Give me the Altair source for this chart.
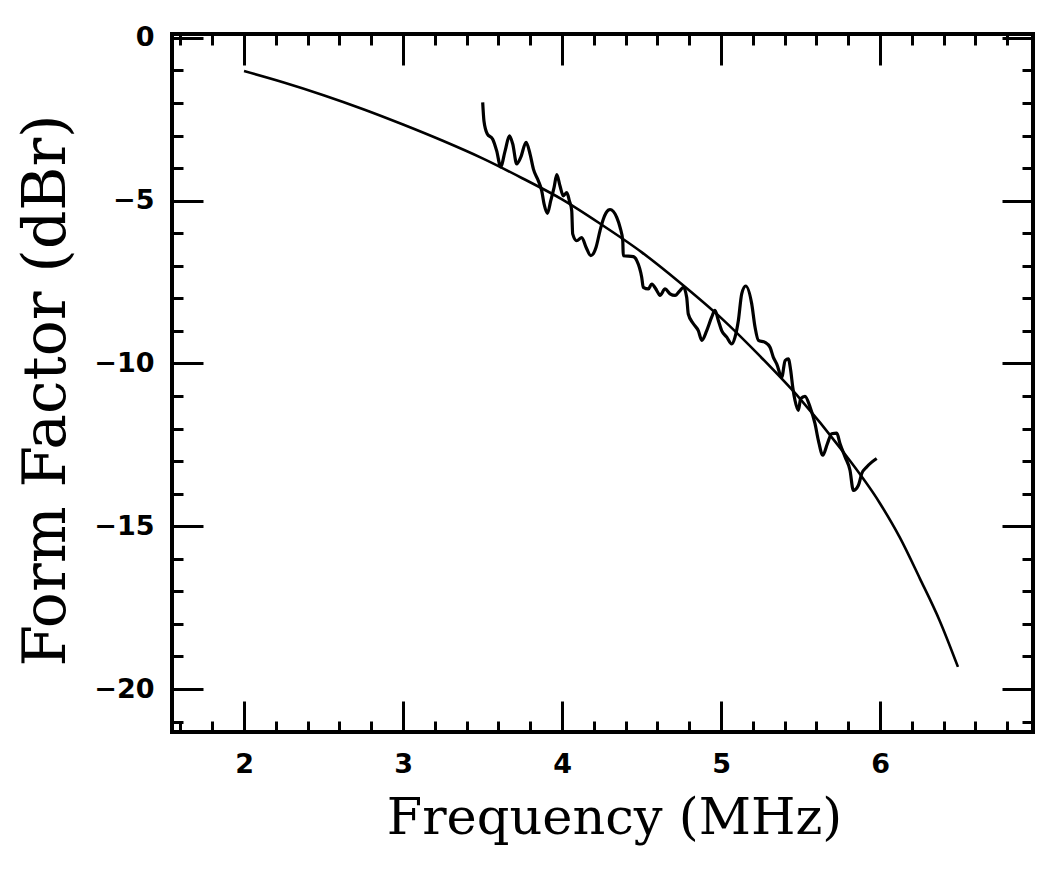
import altair as alt
import pandas as pd

# Smooth fitted curve (frequency in MHz, form factor in dBr)
fit_freq = [2.00, 2.25, 2.50, 2.75, 3.00, 3.25, 3.50, 3.75, 4.00, 4.25, 4.50, 4.75,
            5.00, 5.25, 5.50, 5.75, 6.00, 6.125, 6.25, 6.375, 6.49]
fit_db = [-1.02, -1.37, -1.76, -2.19, -2.66, -3.16, -3.70, -4.31, -4.96, -5.74, -6.58, -7.55,
          -8.60, -9.80, -11.10, -12.60, -14.30, -15.35, -16.60, -17.90, -19.32]

# Measured (noisy) curve
meas_freq = [3.501, 3.509, 3.530, 3.564, 3.589, 3.614, 3.642, 3.669, 3.690, 3.715, 3.740, 3.774,
             3.799, 3.820, 3.851, 3.872, 3.887, 3.908, 3.929, 3.950, 3.967, 3.987, 4.008, 4.030,
             4.046, 4.061, 4.067, 4.092, 4.124, 4.151, 4.181, 4.214, 4.239, 4.260, 4.291, 4.302,
             4.344, 4.365, 4.382, 4.385, 4.448, 4.470, 4.501, 4.511, 4.543, 4.564, 4.596, 4.616,
             4.648, 4.679, 4.711, 4.742, 4.763, 4.784, 4.794, 4.826, 4.857, 4.879, 4.910, 4.941,
             4.962, 4.983, 5.004, 5.036, 5.067, 5.088, 5.109, 5.130, 5.155, 5.193, 5.214, 5.235,
             5.277, 5.308, 5.329, 5.350, 5.382, 5.403, 5.423, 5.438, 5.451, 5.465, 5.486, 5.501,
             5.528, 5.560, 5.591, 5.612, 5.640, 5.669, 5.696, 5.728, 5.748, 5.780, 5.811, 5.832,
             5.864, 5.885, 5.916, 5.948, 5.979]
meas_db = [-1.98, -2.55, -2.95, -3.11, -3.47, -3.96, -3.47, -3.01, -3.26, -3.87, -3.67, -3.21,
           -3.57, -4.03, -4.39, -4.69, -5.10, -5.39, -5.00, -4.59, -4.20, -4.54, -4.85, -4.75,
           -5.00, -5.31, -6.02, -6.23, -6.13, -6.43, -6.69, -6.43, -5.92, -5.56, -5.29, -5.27,
           -5.51, -5.82, -6.23, -6.69, -6.72, -6.84, -7.35, -7.66, -7.71, -7.56, -7.76, -7.91,
           -7.71, -7.86, -7.91, -7.76, -7.66, -7.97, -8.48, -8.78, -8.99, -9.29, -8.99, -8.58,
           -8.37, -8.68, -8.99, -9.19, -9.40, -9.19, -8.68, -7.86, -7.62, -8.17, -8.89, -9.29,
           -9.35, -9.50, -9.81, -10.01, -10.42, -9.91, -9.86, -10.21, -10.73, -11.13, -11.44, -11.08,
           -11.01, -11.34, -11.85, -12.36, -12.82, -12.46, -12.16, -12.14, -12.46, -12.87, -13.28, -13.90,
           -13.74, -13.38, -13.18, -13.03, -12.92]

x_major = [2, 3, 4, 5, 6]
x_minor = [1.6, 1.8, 2.2, 2.4, 2.6, 2.8, 3.2, 3.4, 3.6, 3.8, 4.2, 4.4, 4.6, 4.8,
           5.2, 5.4, 5.6, 5.8, 6.2, 6.4, 6.6, 6.8]
y_major = [0, -5, -10, -15, -20]
y_minor = [-1, -2, -3, -4, -6, -7, -8, -9, -11, -12, -13, -14, -16, -17, -18, -19, -21]

x_domain = [1.547, 6.962]
y_domain = [-21.32, 0.12]

fit_df = pd.DataFrame({"f": fit_freq, "db": fit_db})
meas_df = pd.DataFrame({"f": meas_freq, "db": meas_db})

xs = alt.Scale(domain=x_domain, nice=False, zero=False)
ys = alt.Scale(domain=y_domain, nice=False, zero=False)

LABEL_FONT = "DejaVu Sans"
TITLE_FONT = "DejaVu Serif"
MAJ = 31
MIN = 11


def ax(orient, values, size, labels=False, title=None, **kw):
    return alt.Axis(orient=orient, values=values, tickSize=size, offset=-size,
                    labels=labels, title=title, domain=False, grid=False,
                    tickColor="black", tickWidth=3, **kw)


layer1 = alt.Chart(fit_df).mark_line(color="black", strokeWidth=2.6, interpolate="monotone").encode(
    x=alt.X("f:Q", scale=xs, axis=ax("bottom", x_major, MAJ, labels=True, title="Frequency (MHz)",
                                     labelPadding=19, labelFont=LABEL_FONT, labelFontSize=27,
                                     labelFontWeight="bold", labelColor="black", labelFlush=False,
                                     titleFont=TITLE_FONT, titleFontSize=51, titleFontWeight="normal",
                                     titleColor="black", titlePadding=16, titleX=442)),
    y=alt.Y("db:Q", scale=ys, axis=ax("left", y_major, MAJ, labels=True, title="Form Factor (dBr)",
                                      labelPadding=18, labelFont=LABEL_FONT, labelFontSize=27,
                                      labelFontWeight="bold", labelColor="black", labelFlush=False,
                                      titleFont=TITLE_FONT, titleFontSize=60, titleFontWeight="normal",
                                      titleColor="black", titlePadding=16, titleY=356)),
)

layer2 = alt.Chart(meas_df).mark_line(color="black", strokeWidth=3.2, interpolate="monotone").encode(
    x=alt.X("f:Q", scale=xs, axis=ax("bottom", x_minor, MIN)),
    y=alt.Y("db:Q", scale=ys, axis=ax("left", y_minor, MIN)),
)

layer3 = alt.Chart(fit_df).mark_line(strokeOpacity=0).encode(
    x=alt.X("f:Q", scale=xs, axis=ax("top", x_major, MAJ)),
    y=alt.Y("db:Q", scale=ys, axis=ax("right", y_major, MAJ)),
)

layer4 = alt.Chart(meas_df).mark_line(strokeOpacity=0).encode(
    x=alt.X("f:Q", scale=xs, axis=ax("top", x_minor, MIN)),
    y=alt.Y("db:Q", scale=ys, axis=ax("right", y_minor, MIN)),
)

chart = alt.layer(layer1, layer2, layer3, layer4).resolve_axis(
    x="independent", y="independent"
).properties(
    width=861,
    height=698,
    autosize=alt.AutoSizeParams(type="none"),
    padding={"left": 164, "top": 26, "right": 9, "bottom": 133},
    background="white",
).configure_view(
    stroke="black", strokeWidth=4
)

chart.save("out.html", embed_options={"renderer": "svg", "actions": False})
